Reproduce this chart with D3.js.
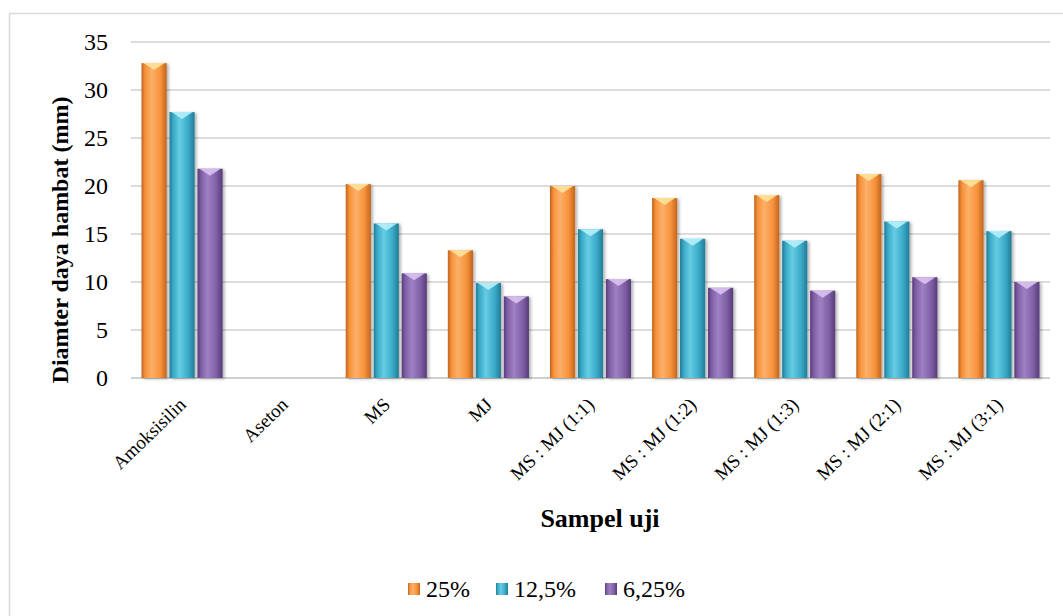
<!DOCTYPE html>
<html lang="en">
<head>
    <meta charset="UTF-8">
    <title>Diamter daya hambat</title>
    <style>
        body { margin: 0; background: #fff; }
        text { font-family: "Liberation Serif", "Times New Roman", serif; fill: #000; }
        .tick text { font-size: 24px; font-family: "Liberation Serif", "Times New Roman", serif; }
        .xlab { font-size: 19px; }
        .title { font-size: 24px; font-weight: bold; }
        .legend text { font-size: 24px; }
    </style>
</head>
<body>
<svg width="1063" height="616"></svg>
<script src="https://d3js.org/d3.v7.min.js"></script>
<script>

var categories = ["Amoksisilin", "Aseton", "MS", "MJ", "MS : MJ (1:1)", "MS : MJ (1:2)",
    "MS : MJ (1:3)", "MS : MJ (2:1)", "MS : MJ (3:1)"];
var seriesNames = ["25%", "12,5%", "6,25%"];
var v25 = [32.8, 0, 20.2, 13.3, 20.0, 18.75, 19.05, 21.25, 20.6];
var v125 = [27.7, 0, 16.1, 9.9, 15.5, 14.5, 14.3, 16.3, 15.3];
var v625 = [21.8, 0, 10.9, 8.5, 10.3, 9.4, 9.1, 10.5, 10.0];
var yTicks = [0, 5, 10, 15, 20, 25, 30, 35];

var colors = [
    {mid: "#f7923a", light: "#fcb06a", dark: "#c0651f", top: "#fde39a"},
    {mid: "#3aaac8", light: "#66cce4", dark: "#237c95", top: "#b6f0fa"},
    {mid: "#8060a6", light: "#9f80c2", dark: "#573c78", top: "#d9c2f0"}
];
var values = [v25, v125, v625];

var svg = d3.select("svg");
var plotLeft = 131, plotRight = 1050, plotTop = 42, plotBottom = 378;

// chart frame
svg.append("rect")
    .attr("x", 9.5).attr("y", 13.5)
    .attr("width", 1070).attr("height", 620)
    .attr("fill", "none")
    .attr("stroke", "#d9d9d9")
    .attr("stroke-width", 1.5);

var defs = svg.append("defs");
colors.forEach(function(c, i) {
    var g = defs.append("linearGradient").attr("id", "grad" + i)
        .attr("x1", "0").attr("x2", "1").attr("y1", "0").attr("y2", "0");
    g.append("stop").attr("offset", "0").attr("stop-color", c.dark);
    g.append("stop").attr("offset", "0.15").attr("stop-color", c.mid);
    g.append("stop").attr("offset", "0.4").attr("stop-color", c.light);
    g.append("stop").attr("offset", "0.75").attr("stop-color", c.mid);
    g.append("stop").attr("offset", "1").attr("stop-color", c.dark);
});
var shadow = defs.append("filter").attr("id", "shadow")
    .attr("x", "-20%").attr("y", "-5%").attr("width", "150%").attr("height", "115%");
shadow.append("feDropShadow").attr("dx", 2).attr("dy", 1).attr("stdDeviation", 1.5)
    .attr("flood-color", "#000").attr("flood-opacity", 0.3);

var x0 = d3.scaleBand().domain(categories).range([plotLeft, plotRight]);
var x1 = d3.scaleBand().domain(d3.range(3)).range([10.5, x0.bandwidth() - 10.5]).paddingInner(0.1);
var y = d3.scaleLinear().domain([0, 35]).range([plotBottom, plotTop]);

// gridlines
svg.append("g").selectAll("line")
    .data(yTicks)
    .enter().append("line")
    .attr("x1", plotLeft).attr("x2", plotRight)
    .attr("y1", function(d) { return y(d); })
    .attr("y2", function(d) { return y(d); })
    .attr("stroke", function(d) { return d === 0 ? "#cfcfcf" : "#dcdcdc"; })
    .attr("stroke-width", 2);

// y axis
var yAxis = svg.append("g")
    .attr("transform", "translate(" + (plotLeft - 23) + ",0)")
    .call(d3.axisLeft(y).tickValues(yTicks).tickSize(0).tickPadding(0));
yAxis.select(".domain").remove();
yAxis.attr("font-family", null).attr("font-size", null);

// bars
var data = [];
categories.forEach(function(cat, ci) {
    values.forEach(function(vals, si) {
        data.push({cat: cat, s: si, v: vals[ci]});
    });
});
var bars = svg.append("g").selectAll("g")
    .data(data.filter(function(d) { return d.v > 0; }))
    .enter().append("g")
    .attr("filter", "url(#shadow)");

bars.append("rect")
    .attr("x", function(d) { return x0(d.cat) + x1(d.s); })
    .attr("y", function(d) { return y(d.v); })
    .attr("width", x1.bandwidth())
    .attr("height", function(d) { return y(0) - y(d.v); })
    .attr("fill", function(d) { return "url(#grad" + d.s + ")"; });

// bevel on top of each bar
bars.append("path")
    .attr("d", function(d) {
        var xa = x0(d.cat) + x1(d.s), xb = xa + x1.bandwidth(), yt = y(d.v);
        var xm = (xa + xb) / 2;
        return "M" + (xa + 2) + "," + yt + "L" + (xb - 2) + "," + yt +
            "L" + xm + "," + (yt + 7) + "Z";
    })
    .attr("fill", function(d) { return colors[d.s].top; })
    .attr("opacity", 0.9);

// x labels
svg.append("g").selectAll("text")
    .data(categories)
    .enter().append("text")
    .attr("class", "xlab")
    .attr("text-anchor", "end")
    .attr("transform", function(d) {
        return "translate(" + (x0(d) + x0.bandwidth() / 2 + 5) + ",406) rotate(-44)";
    })
    .text(function(d) { return d; });

// axis titles
svg.append("text")
    .attr("class", "title")
    .attr("text-anchor", "middle")
    .attr("transform", "translate(68,240) rotate(-90)")
    .text("Diamter daya hambat (mm)");

svg.append("text")
    .attr("class", "title")
    .attr("x", 600).attr("y", 527)
    .attr("text-anchor", "middle")
    .style("font-size", "26px")
    .text("Sampel uji");

// legend
var legendX = [408, 496, 605];
var legend = svg.append("g").attr("class", "legend")
    .selectAll("g")
    .data(seriesNames)
    .enter().append("g")
    .attr("transform", function(d, i) { return "translate(" + legendX[i] + ",583)"; });
legend.append("rect")
    .attr("width", 12).attr("height", 12)
    .attr("fill", function(d, i) { return "url(#grad" + i + ")"; });
legend.append("text")
    .attr("x", 18).attr("y", 14)
    .text(function(d) { return d; });

</script>
</body>
</html>
